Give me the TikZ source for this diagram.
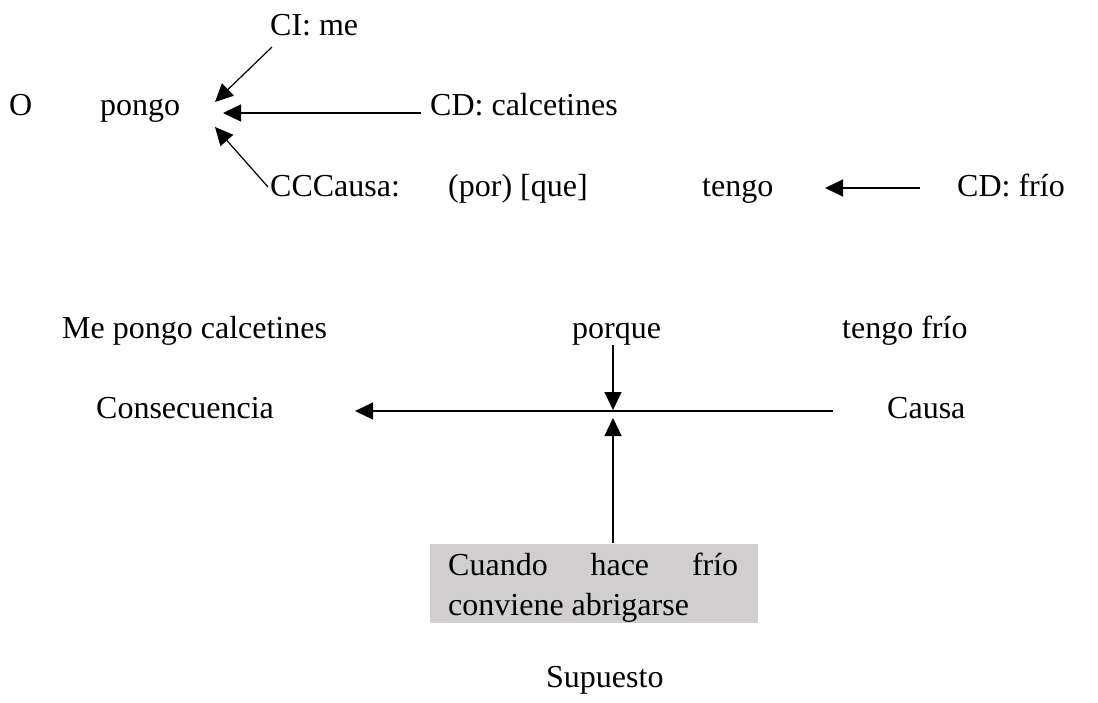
\documentclass[tikz,border=0pt]{standalone}
\usepackage{fontspec}
\setmainfont{Liberation Serif}
\usetikzlibrary{arrows.meta}
\definecolor{boxgray}{RGB}{208,206,206}
\begin{document}
\begin{tikzpicture}[x=1pt,y=-1pt,
  txt/.style={font=\fontsize{32}{37}\selectfont, inner sep=0pt, anchor=base west},
  arr/.style={line width=1.2pt, -{Triangle[length=18pt,width=17pt]}}]
\useasboundingbox (0,0) rectangle (1098,702);
% top analysis
\node[txt] (ci) at (270,35) {CI: me};
\node[txt] (o) at (9,115) {O};
\node[txt] (pongo) at (100,115) {pongo};
\node[txt] (cdc) at (430,115) {CD: calcetines};
\node[txt] (ccc) at (270,196) {CCCausa:};
\node[txt] (porque1) at (448,196) {(por) [que]};
\node[txt] (tengo) at (702,196) {tengo};
\node[txt] (cdf) at (957,196) {CD: frío};
\coordinate (a1s) at (272,47);  \coordinate (a1e) at (215,102);
\coordinate (a2s) at (421,113); \coordinate (a2e) at (223,113);
\coordinate (a3s) at (268,187); \coordinate (a3e) at (215,127);
\coordinate (a4s) at (920,188); \coordinate (a4e) at (825,188);
\draw[arr] (a1s) -- (a1e);
\draw[arr] (a2s) -- (a2e);
\draw[arr] (a3s) -- (a3e);
\draw[arr] (a4s) -- (a4e);
% bottom scheme
\node[txt] (me) at (62,338) {Me pongo calcetines};
\node[txt] (porque) at (572,338) {porque};
\node[txt] (tf) at (842,338) {tengo frío};
\node[txt] (cons) at (96,418) {Consecuencia};
\node[txt] (causa) at (887,418) {Causa};
\node[fill=boxgray, inner sep=0pt, anchor=north west, minimum width=328pt, minimum height=79pt] (box) at (430,544) {};
\node[txt] (b1) at (448,575) {\makebox[290pt][s]{Cuando hace frío}};
\node[txt] (b2) at (448,615) {conviene abrigarse};
\node[txt] (sup) at (546,687) {Supuesto};
\coordinate (a5s) at (613,345); \coordinate (a5e) at (613,410);
\coordinate (a6s) at (833,411); \coordinate (a6e) at (355,411);
\coordinate (a7s) at (613,543); \coordinate (a7e) at (613,418);
\draw[arr] (a5s) -- (a5e);
\draw[arr] (a6s) -- (a6e);
\draw[arr] (a7s) -- (a7e);
\end{tikzpicture}
\end{document}
